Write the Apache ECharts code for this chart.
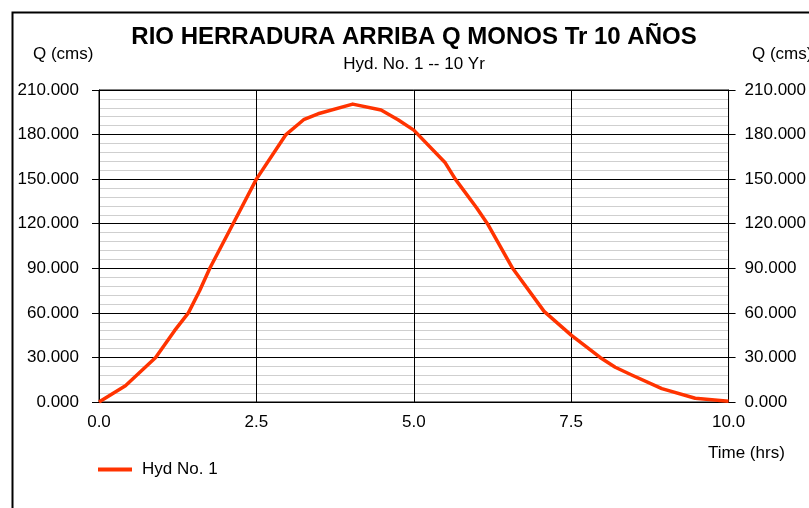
<!DOCTYPE html>
<html>
<head>
<meta charset="utf-8">
<script src="https://cdn.jsdelivr.net/npm/echarts@6/dist/echarts.min.js"></script>
<style>
html,body{margin:0;padding:0;background:#fff;}
#chart{width:809px;height:508px;}
</style>
</head>
<body>
<div id="chart"></div>
<script>
// Data
const seriesName = 'Hyd No. 1';
const times = [0, 0.42, 0.9, 1.2, 1.42, 1.6, 1.76, 2.13, 2.5, 2.97, 3.25, 3.48, 4.03, 4.48, 4.75, 5.0, 5.5, 5.66, 6.0, 6.17, 6.57, 7.07, 7.5, 7.96, 8.2, 8.47, 8.94, 9.47, 10.0];
const flows = [0, 11, 30, 48, 60, 75, 90, 120, 150, 180, 190, 194, 200.5, 196.5, 190, 183, 161, 150, 130.6, 120, 90, 61, 45, 30, 23.4, 18, 9, 2.5, 0.5];
const xTicks = [0, 2.5, 5.0, 7.5, 10.0];
const yTicks = [0, 30, 60, 90, 120, 150, 180, 210];

const titleText = 'RIO HERRADURA ARRIBA Q MONOS Tr 10 AÑOS';
const subtitleText = 'Hyd. No. 1 -- 10 Yr';
const yName = 'Q (cms)';
const xName = 'Time (hrs)';

const FONT = "'Liberation Sans', Arial, sans-serif";
const chart = echarts.init(document.getElementById('chart'), null, {renderer: 'canvas'});

const yAxisBase = (pos, margin) => ({
  type: 'value',
  position: pos,
  min: yTicks[0],
  max: yTicks[yTicks.length - 1],
  interval: yTicks[1] - yTicks[0],
  axisLine: {show: true, lineStyle: {color: '#000', width: 1}},
  axisTick: {show: true, inside: false, length: 7, lineStyle: {color: '#000', width: 1}},
  axisLabel: {
    show: true, margin: margin, color: '#000', fontFamily: FONT, fontSize: 17,
    formatter: v => v.toFixed(3)
  },
  minorTick: {show: false, splitNumber: 5},
  splitLine: {show: pos === 'left', lineStyle: {color: '#000', width: 1}},
  minorSplitLine: {show: pos === 'left', lineStyle: {color: '#cfcfcf', width: 1}}
});

chart.setOption({
  backgroundColor: '#fff',
  animation: false,
  grid: {left: 99, right: 77, top: 90, bottom: 106, show: true, borderColor: '#000', borderWidth: 1, backgroundColor: 'transparent'},
  xAxis: {
    type: 'value',
    min: xTicks[0],
    max: xTicks[xTicks.length - 1],
    interval: xTicks[1] - xTicks[0],
    axisLine: {show: true, lineStyle: {color: '#000', width: 1}},
    axisTick: {show: false},
    axisLabel: {margin: 12, color: '#000', fontFamily: FONT, fontSize: 17, formatter: v => v.toFixed(1)},
    splitLine: {show: true, lineStyle: {color: '#000', width: 1}}
  },
  yAxis: [yAxisBase('left', 20), yAxisBase('right', 16)],
  legend: {
    data: [seriesName],
    left: 93, top: 456,
    icon: 'rect', itemWidth: 34, itemHeight: 4,
    textStyle: {color: '#000', fontFamily: FONT, fontSize: 17, padding: [0, 0, 0, 5]}
  },
  series: [{
    name: seriesName,
    type: 'line',
    yAxisIndex: 0,
    data: times.map((t, i) => [t, flows[i]]),
    showSymbol: false,
    smooth: false,
    color: '#ff3300',
    lineStyle: {color: '#ff3300', width: 3.5, join: 'round'}
  }],
  graphic: [
    {type: 'rect', left: 10, top: 10, silent: true, shape: {x: 0, y: 0, width: 900, height: 600},
     style: {fill: 'none', stroke: '#000', lineWidth: 2}},
    {type: 'text', x: 414, y: 37, style: {text: titleText, fill: '#000', font: 'bold 24px ' + FONT, align: 'center', verticalAlign: 'middle'}},
    {type: 'text', x: 414, y: 64, style: {text: subtitleText, fill: '#000', font: '17px ' + FONT, align: 'center', verticalAlign: 'middle'}},
    {type: 'text', x: 33, y: 54, style: {text: yName, fill: '#000', font: '17px ' + FONT, align: 'left', verticalAlign: 'middle'}},
    {type: 'text', x: 752, y: 54, style: {text: yName, fill: '#000', font: '17px ' + FONT, align: 'left', verticalAlign: 'middle'}},
    {type: 'text', x: 708, y: 453, style: {text: xName, fill: '#000', font: '17px ' + FONT, align: 'left', verticalAlign: 'middle'}}
  ]
});
</script>
</body>
</html>
